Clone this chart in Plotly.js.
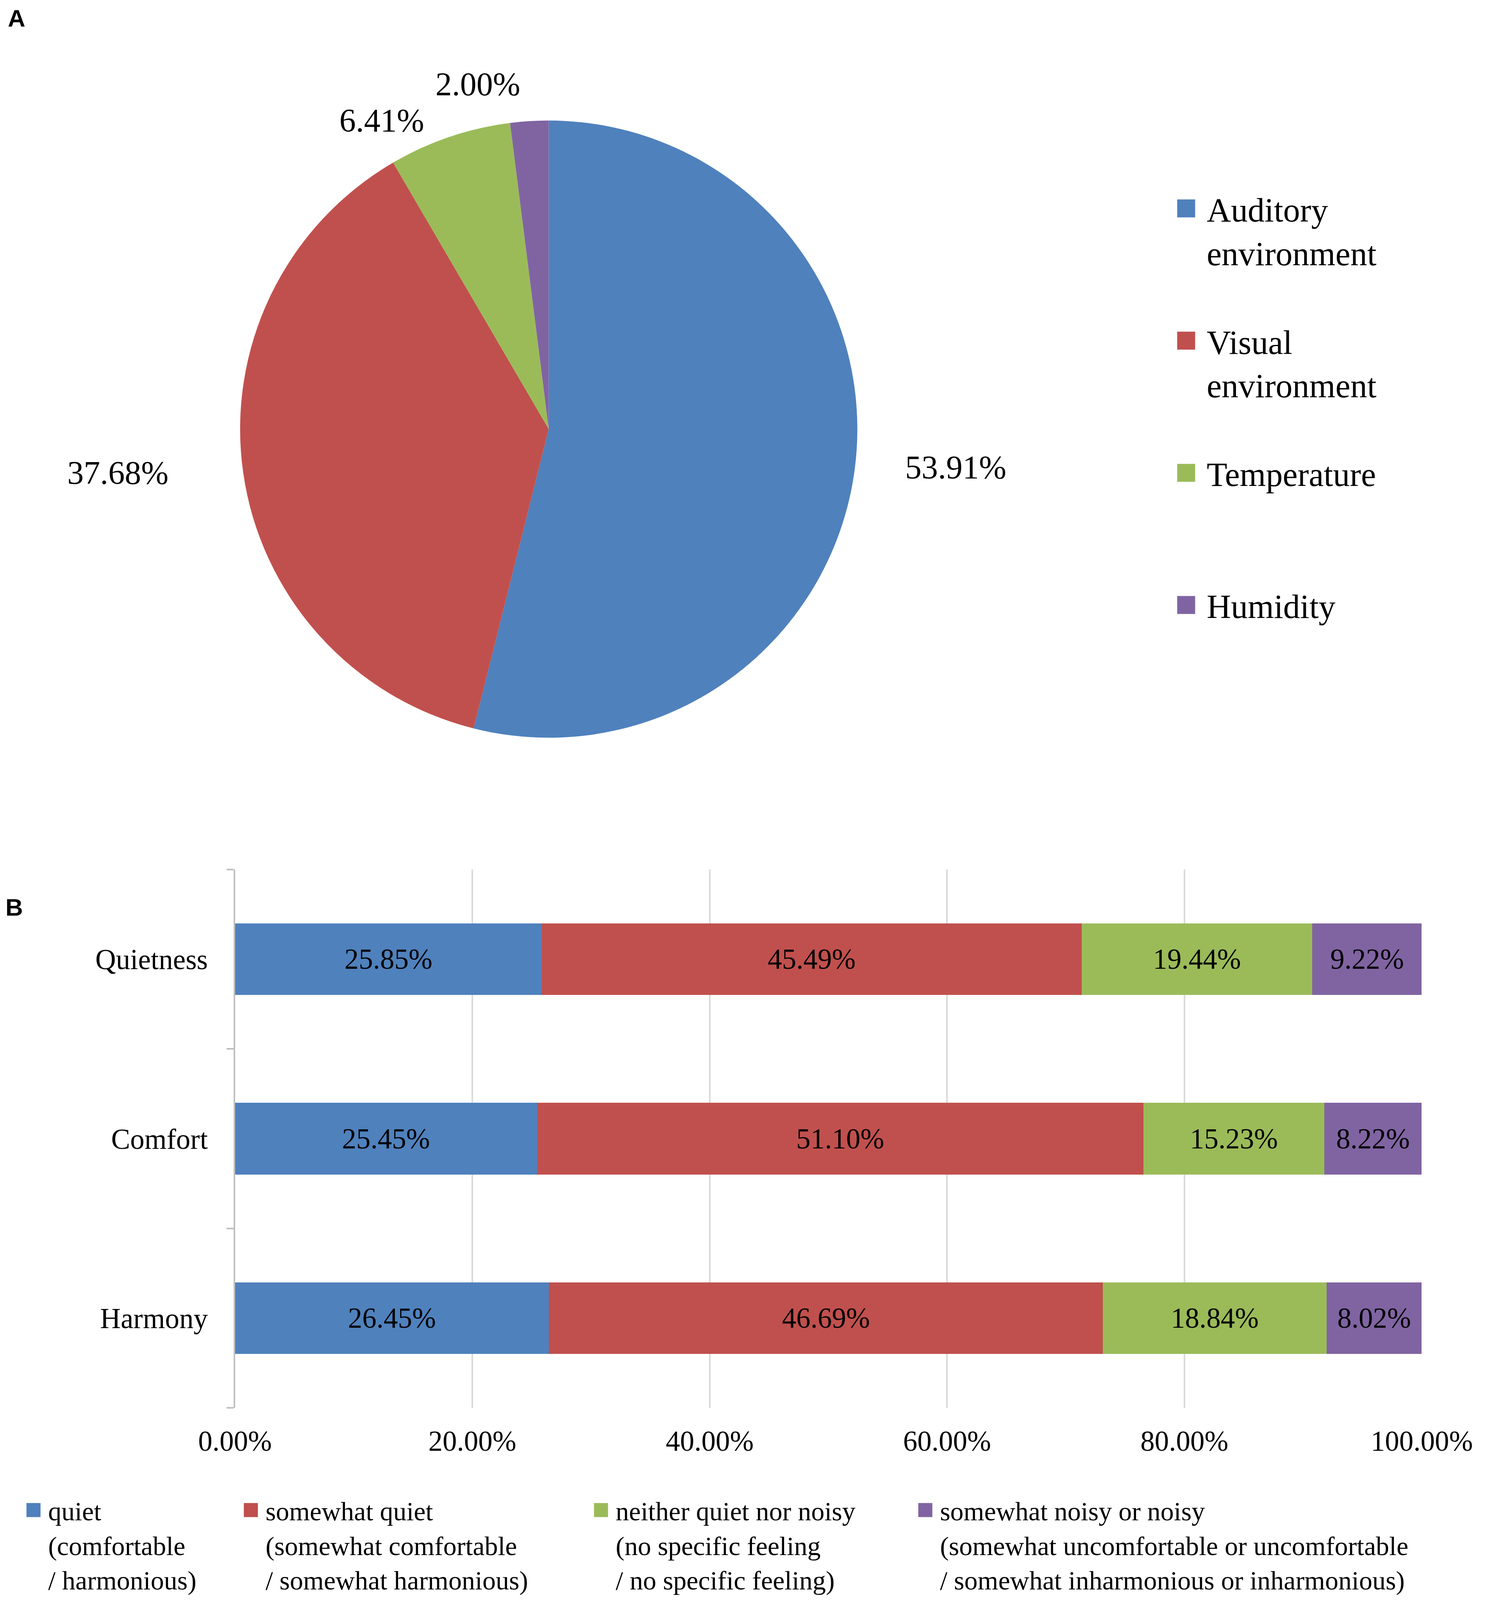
<!DOCTYPE html>
<html>
<head>
<meta charset="utf-8">
<script src="https://cdn.plot.ly/plotly-3.0.1.min.js"></script>
<style>
html, body { margin: 0; padding: 0; background: #ffffff; }
/* no leader lines for the outside pie labels */
.pielayer .textline { display: none; }
</style>
</head>
<body>
<div id="chart"></div>
<script>
// the window really is 3850 x 4096 : lay the figure out on what is visible
var W = window.innerWidth || 3850;
var H = Math.min(window.innerHeight || 4710, 4710);
// positions below are read on a 1280 x 1566 copy of the figure
var SX = W / 1280;
var SY = H / 1566;
var F = 2.8;   // font scale
var SERIF = 'Liberation Serif, Times New Roman, serif';

// A : share of each factor (%)
var pieLabels = ['Auditory<br>environment', 'Visual<br>environment', 'Temperature', 'Humidity'];
var pieValues = [53.91, 37.68, 6.41, 2.00];

// B : answers per question (%)
var categories = ['Harmony', 'Comfort', 'Quietness'];
var quiet = [26.45, 25.45, 25.85];
var somewhatQuiet = [46.69, 51.10, 45.49];
var neither = [18.84, 15.23, 19.44];
var noisy = [8.02, 8.22, 9.22];
var barNames = [
	'quiet<br>(comfortable<br>/ harmonious)',
	'somewhat quiet<br>(somewhat comfortable<br>/ somewhat harmonious)',
	'neither quiet nor noisy<br>(no specific feeling<br>/ no specific feeling)',
	'somewhat noisy or noisy<br>(somewhat uncomfortable or uncomfortable<br>/ somewhat inharmonious or inharmonious)'
];
var xTicks = [0, 20, 40, 60, 80, 100];
var xTickText = xTicks.map(function(v) { return v.toFixed(2) + '%'; });

var colors = ['#4F81BD', '#C0504D', '#9BBB59', '#8064A2'];

function f(v) { return Math.round(v * F); }
// copy px -> paper
function px(x) { return x / 1280; }
function py(y) { return 1 - y / 1566; }

var NB = '\u00a0';
function pad(n) { return new Array(n + 1).join(NB); }

// legend marker sits on the middle line : pad with blank lines above
function pieLegendText(label)
{
	var n = label.split('<br>').length;
	return NB + '<br>' + label + (n == 1 ? '<br>' + NB : '');
}

// plotly legend item : height = lines * 1.3 * font + 3, centred 5 px under the top
function legendTop(markerY, lines, size)
{
	var h = lines * 1.3 * size + 3;
	return 1 - (markerY * SY - 5 - h / 2) / H;
}

var BAR_FONT = 68, BAR_ITEMW = 65;
function barLegend(markerX)
{
	return {
		x: (markerX * SX - (BAR_ITEMW + 10) / 2) / W, xanchor: 'left',
		y: legendTop(1478, 5, BAR_FONT), yanchor: 'top',
		itemwidth: BAR_ITEMW,
		bgcolor: 'rgba(0,0,0,0)',
		font: {family: SERIF, size: BAR_FONT, color: '#000000'}
	};
}

// pie : centre and radius in real px
var cx = 467 * SX, cy = 420 * SY, r = 790;
var pie = {
	type: 'pie',
	labels: pieLabels.map(pieLegendText),
	values: pieValues,
	sort: false,
	direction: 'clockwise',
	rotation: 0,
	marker: {colors: colors, line: {width: 0}},
	texttemplate: [
		pad(5) + '%{value:.2f}%',
		'%{value:.2f}%' + pad(8),
		'%{value:.2f}%' + pad(2),
		'%{value:.2f}%'
	],
	textposition: 'outside',
	textfont: {family: SERIF, size: f(30), color: '#000000'},
	domain: {x: [(cx - r) / W, (cx + r) / W], y: [1 - (cy + r) / H, 1 - (cy - r) / H]},
	hoverinfo: 'none',
	legend: 'legend'
};

var series = [quiet, somewhatQuiet, neither, noisy];
var legendIds = ['legend2', 'legend3', 'legend4', 'legend5'];
var traces = [pie];
for (var i = 0; i < series.length; i++)
{
	traces.push({
		type: 'bar',
		orientation: 'h',
		y: categories,
		x: series[i],
		name: NB + '<br>' + NB + '<br>' + barNames[i],
		width: 0.4,
		marker: {color: colors[i], line: {width: 0}},
		texttemplate: '%{x:.2f}%',
		textposition: 'inside',
		insidetextanchor: 'middle',
		textangle: 0,
		textfont: {family: SERIF, size: f(26), color: '#000000'},
		hoverinfo: 'none',
		legend: legendIds[i]
	});
}

var PIE_FONT = 86, PIE_ITEMW = 95;
var layout = {
	width: W,
	height: H,
	margin: {l: 0, r: 0, t: 0, b: 0, autoexpand: false},
	paper_bgcolor: '#ffffff',
	plot_bgcolor: 'rgba(0,0,0,0)',
	barmode: 'stack',
	showlegend: true,
	font: {family: SERIF, color: '#000000'},
	legend: {
		x: (1009.5 * SX - (PIE_ITEMW + 10) / 2) / W, xanchor: 'left',
		y: legendTop(204, 3, PIE_FONT), yanchor: 'top',
		itemwidth: PIE_ITEMW,
		bgcolor: 'rgba(0,0,0,0)',
		font: {family: SERIF, size: PIE_FONT, color: '#000000'}
	},
	legend2: barLegend(28.5),
	legend3: barLegend(213.5),
	legend4: barLegend(511.5),
	legend5: barLegend(787.5),
	xaxis: {
		domain: [px(200), px(1210)],
		range: [0, 100],
		tickvals: xTicks,
		ticktext: xTickText,
		showgrid: true,
		gridcolor: '#d9d9d9',
		gridwidth: 4,
		zeroline: false,
		showline: false,
		ticks: '',
		ticklabelstandoff: 36,
		tickfont: {family: SERIF, size: f(26), color: '#000000'},
		fixedrange: true
	},
	yaxis: {
		domain: [py(1378), py(851)],
		type: 'category',
		categoryarray: categories,
		range: [-0.5, 2.5],
		tickson: 'boundaries',
		ticks: 'outside',
		ticklen: 18,
		tickwidth: 4,
		tickcolor: '#bfbfbf',
		showline: true,
		linecolor: '#bfbfbf',
		linewidth: 4,
		showgrid: false,
		zeroline: false,
		ticklabelstandoff: 51,
		tickfont: {family: SERIF, size: f(26), color: '#000000'},
		fixedrange: true
	},
	annotations: [
		{text: '<b>A</b>', xref: 'paper', yref: 'paper', x: px(6), y: py(4), xanchor: 'left', yanchor: 'top',
			showarrow: false, font: {family: 'Liberation Sans, Arial, sans-serif', size: f(22), color: '#000000'}},
		{text: '<b>B</b>', xref: 'paper', yref: 'paper', x: px(4), y: py(874), xanchor: 'left', yanchor: 'top',
			showarrow: false, font: {family: 'Liberation Sans, Arial, sans-serif', size: f(22), color: '#000000'}}
	]
};

Plotly.newPlot('chart', traces, layout, {staticPlot: true, displayModeBar: false}).then(function(gd)
{
	// legend squares as big as in the figure
	gd.querySelectorAll('g.legendpoints path').forEach(function(p)
	{
		var half = p.classList.contains('legendpie') ? 23 : 18;
		p.setAttribute('d', 'M' + half + ',' + half + 'H-' + half + 'V-' + half + 'H' + half + 'Z');
	});
});
</script>
</body>
</html>
